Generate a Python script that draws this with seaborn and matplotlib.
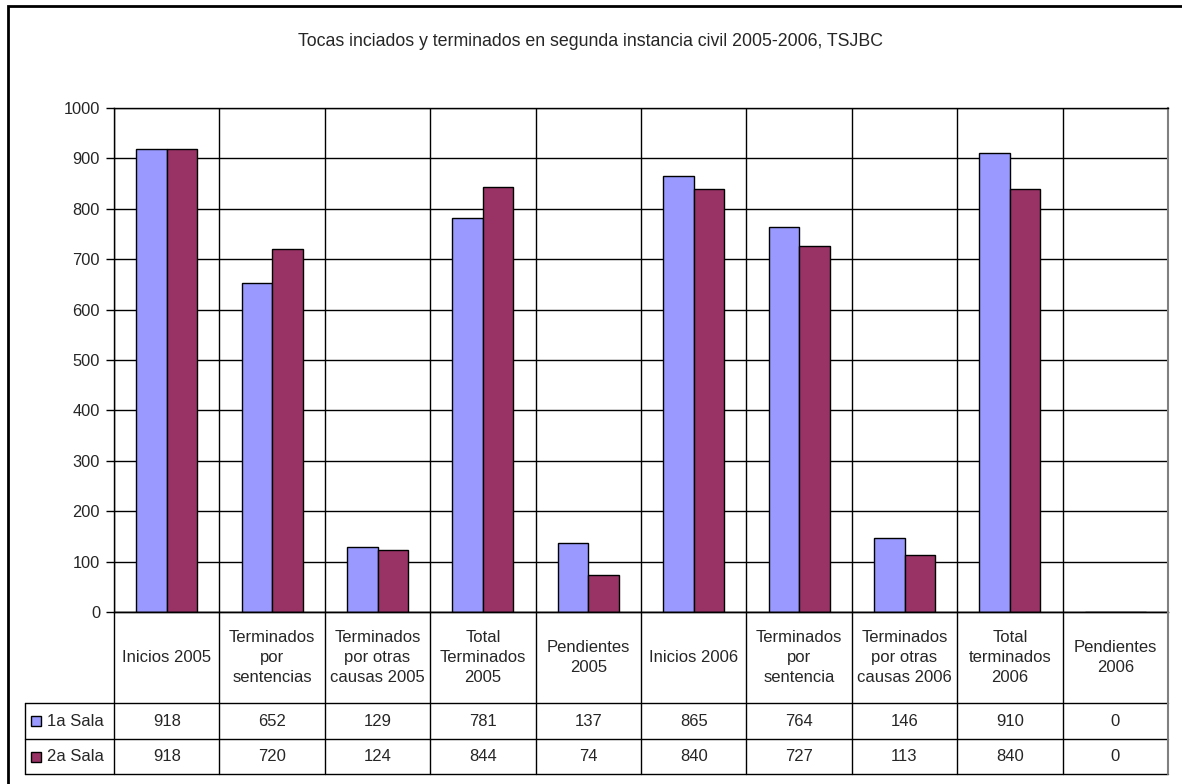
import numpy as np
import pandas as pd
import matplotlib
matplotlib.use("Agg")
import matplotlib.pyplot as plt
import matplotlib.transforms as mtransforms
import seaborn as sns

categories = ["Inicios 2005", "Terminados\npor\nsentencias", "Terminados\npor otras\ncausas 2005",
              "Total\nTerminados\n2005", "Pendientes\n2005", "Inicios 2006", "Terminados\npor\nsentencia",
              "Terminados\npor otras\ncausas 2006", "Total\nterminados\n2006", "Pendientes\n2006"]
sala1 = [918, 652, 129, 781, 137, 865, 764, 146, 910, 0]
sala2 = [918, 720, 124, 844, 74, 840, 727, 113, 840, 0]
series = ["1a Sala", "2a Sala"]
colors = ["#9999FF", "#993366"]
title = "Tocas inciados y terminados en segunda instancia civil 2005-2006, TSJBC"

df = pd.DataFrame({
    "cat": categories * 2,
    "value": sala1 + sala2,
    "sala": [series[0]] * len(categories) + [series[1]] * len(categories),
})

sns.set_style("white")
plt.rcParams["font.family"] = ["Liberation Sans", "DejaVu Sans"]

W, H = 1182, 784
fig = plt.figure(figsize=(W / 100, H / 100), dpi=100)

# outer chart frame
frame = plt.Rectangle((8 / W, -0.1), 1.2, 1 - 6 / H + 0.1, transform=fig.transFigure,
                      fill=False, edgecolor="black", linewidth=2)
fig.patches.append(frame)

left, right, top, bottom = 114, 1168, 108, 612
ax = fig.add_axes([left / W, 1 - bottom / H, (right - left) / W, (bottom - top) / H])

sns.barplot(data=df, x="cat", y="value", hue="sala", palette=colors, width=0.58,
            edgecolor="black", linewidth=1, saturation=1, ax=ax, legend=False)

ax.set_xlim(-0.5, len(categories) - 0.5)
ax.set_ylim(0, 1000)
ax.set_yticks(np.arange(0, 1001, 100))
ax.tick_params(axis="y", labelsize=11.8, length=6, width=1, color="black", pad=4, left=True)
ax.set_xticks([])
ax.set_xlabel("")
ax.set_ylabel("")
ax.grid(axis="y", color="black", linewidth=1)
ax.set_axisbelow(True)
for i in range(len(categories) + 1):
    ax.axvline(i - 0.5, color="black", linewidth=1, zorder=0.5)
for s in ax.spines.values():
    s.set_color("black")
    s.set_linewidth(1)
ax.spines["right"].set_color("#808080")
ax.spines["right"].set_linewidth(1.5)

fig.text(0.5, 1 - 41 / H, title, ha="center", va="center", fontsize=12.8)

# data table under the plot
tr = mtransforms.blended_transform_factory(ax.transData, fig.transFigure)
fy = lambda py: 1 - py / H
row_y = [612, 703, 739, 774]
n = len(categories)
ax_lines = dict(color="black", linewidth=1, transform=tr, clip_on=False)
xl_data = ax.transData.inverted().transform((25, 0))[0]
fig.lines.append(plt.Line2D([-0.5, n - 0.5], [fy(612), fy(612)], **ax_lines))
for py in row_y[1:]:
    fig.lines.append(plt.Line2D([xl_data, n - 0.5], [fy(py), fy(py)], **ax_lines))
for i in range(n):
    fig.lines.append(plt.Line2D([i - 0.5, i - 0.5], [fy(612), fy(774)], **ax_lines))
fig.lines.append(plt.Line2D([n - 0.5, n - 0.5], [fy(612), fy(774)], color="#808080",
                            linewidth=1.5, transform=tr, clip_on=False))
fig.lines.append(plt.Line2D([xl_data, xl_data], [fy(703), fy(774)], **ax_lines))

for i, cat in enumerate(categories):
    fig.text(i, fy((row_y[0] + row_y[1]) / 2), cat, transform=tr, ha="center", va="center",
             fontsize=12, linespacing=1.42)
    fig.text(i, fy((row_y[1] + row_y[2]) / 2), str(sala1[i]), transform=tr, ha="center",
             va="center", fontsize=12)
    fig.text(i, fy((row_y[2] + row_y[3]) / 2), str(sala2[i]), transform=tr, ha="center",
             va="center", fontsize=12)

for k, (name, col) in enumerate(zip(series, colors)):
    yc = fy((row_y[k + 1] + row_y[k + 2]) / 2)
    sq = plt.Rectangle((31 / W, yc - 5 / H), 10 / W, 10 / H, transform=fig.transFigure,
                       facecolor=col, edgecolor="black", linewidth=1)
    fig.patches.append(sq)
    fig.text(47 / W, yc, name, ha="left", va="center", fontsize=12)

fig.savefig("out.png", dpi=100)
